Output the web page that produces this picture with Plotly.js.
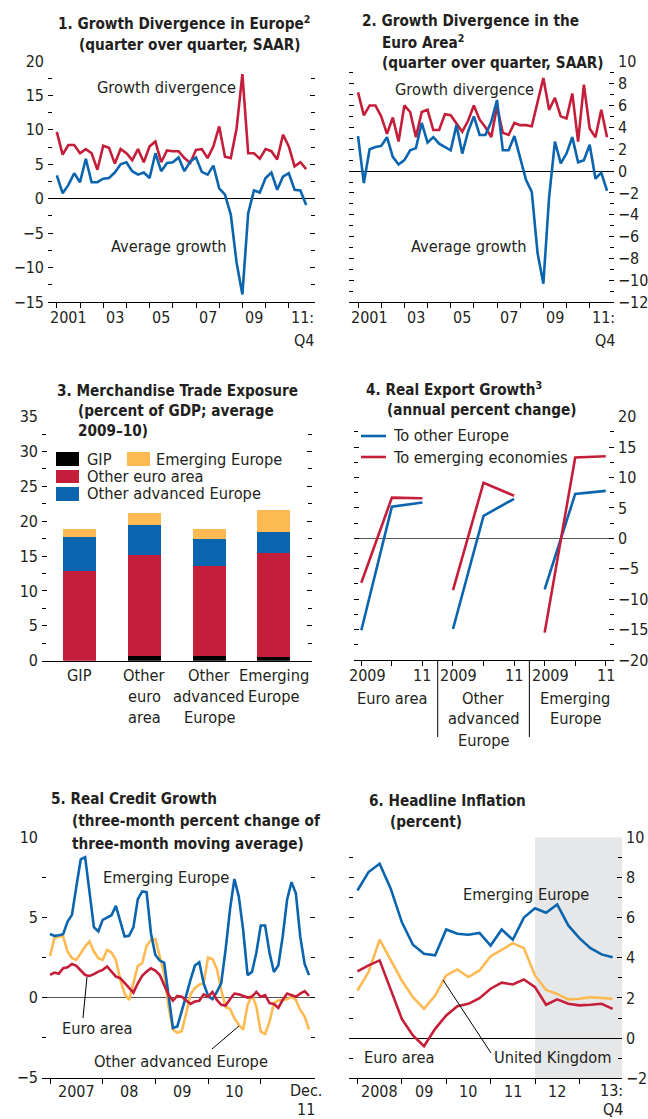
<!DOCTYPE html>
<html>
<head>
<meta charset="utf-8">
<script src="https://cdn.plot.ly/plotly-3.0.1.min.js"></script>
<style>
html,body{margin:0;padding:0;background:#fff;}
#chart{width:648px;height:1119px;}
</style>
</head>
<body>
<div id="chart"></div>
<script>
// ---------- DATA ----------
// Panel 1: Growth divergence in Europe, quarterly 2001Q1–2011Q4
const p1Start = 2001;
const p1Divergence = [9.7,6.4,7.8,7.8, 6.6,7.2,6.6,4.2, 7.7,7.4,5.1,7.2, 6.6,5.6,7.2,5.3, 7.6,8.3,5.3,7.0, 6.9,6.9,5.9,5.2, 7.1,7.2,5.9,7.6, 10.5,6.1,5.9,10.2, 18.1,6.6,6.6,5.8, 7.2,6.9,5.7,9.3, 7.6,4.7,5.3,4.3];
const p1Average = [3.4,0.8,2.0,3.7, 2.4,5.8,2.4,2.4, 2.9,3.0,3.8,5.0, 5.3,4.0,3.5,3.8, 3.0,6.6,4.0,5.2, 5.3,6.0,4.0,5.4, 6.0,3.9,3.5,4.8, 1.5,0.6,-2.3,-9.3, -13.9,-2.1,1.2,0.9, 3.0,3.8,1.3,3.2, 3.7,1.3,1.2,-0.9];

// Panel 2: Growth divergence in the euro area, quarterly 2001Q1–2011Q4
const p2Divergence = [7.2,5.1,6.0,6.0, 5.0,3.4,4.9,2.7, 6.0,5.4,3.1,5.4, 5.6,3.75,3.75,5.2, 5.1,4.4,3.6,4.6, 6.0,4.7,4.0,3.1, 5.9,3.5,3.3,4.4, 4.2,4.2,4.1,6.3, 8.5,5.6,6.7,5.0, 4.8,7.1,2.7,7.9, 3.9,3.1,5.6,3.1];
const p2Average = [3.2,-1.1,2.0,2.2, 2.3,3.1,1.3,0.6, 1.0,1.9,2.1,4.4, 2.6,3.1,2.5,2.2, 1.9,4.2,1.6,3.6, 5.0,3.3,3.3,4.5, 6.5,1.9,1.9,3.2, 1.3,-0.8,-1.9,-7.5, -10.3,-2.35,2.7,0.7, 1.6,3.1,0.8,1.0, 2.4,-0.7,-0.15,-1.8];
const yearTickLabels = ["2001","03","05","07","09"];

// Panel 3: Merchandise trade exposure (percent of GDP)
const p3Categories = ["GIP","Other<br>euro<br>area","Other<br>advanced<br>Europe","Emerging<br>Europe"];
const p3GIP = [0, 0.7, 0.7, 0.55];
const p3OtherEuro = [12.8, 14.5, 12.9, 14.95];
const p3OtherAdv = [5.0, 4.2, 3.9, 3.0];
const p3Emerging = [1.1, 1.8, 1.4, 3.1];

// Panel 4: Real export growth (annual percent change), 2009–11 for each group
const p4Groups = ["Euro area","Other<br>advanced<br>Europe","Emerging<br>Europe"];
const p4Years = ["2009","10","11"];
const p4ToOtherEurope = [[-15.1, 5.2, 5.9], [-14.9, 3.7, 6.5], [-8.4, 7.3, 7.8]];
const p4ToEmerging = [[-7.3, 6.7, 6.6], [-8.5, 9.15, 7.0], [-15.5, 13.3, 13.5]];

// Panel 5: Real credit growth, monthly Jan 2007 – Dec 2011
const p5Start = 2007;
const p5Emerging = [3.97,3.85,3.89,3.95,4.74,5.16,6.93,8.63,8.76,6.41, 4.39,4.12,4.85,4.99,5.14,5.72,4.74,3.81,3.85,4.39, 6.14,6.62,6.58,4.0,2.66,2.31,2.18,0.1,-1.9,-1.8, -0.9,0.1,1.1,2.0,2.2,0.9,0.1,-0.1,0.35,0.9, 3.0,5.5,7.4,6.3,4.2,1.4,1.6,2.8,4.5,4.5, 2.8,1.6,2.0,3.8,6.1,7.2,6.5,3.8,2.1,1.4];
const p5OtherAdv = [2.6,3.7,3.81,3.81,2.87,2.46,2.35,2.77,3.18,3.5, 2.87,2.46,2.35,2.98,2.81,2.35,1.14,0.23,-0.15,0.9, 1.98,2.14,3.23,3.6,3.64,2.56,1.52,-0.56,-2.0,-2.2, -2.1,-1.0,0.2,0.6,0.8,0.9,2.5,2.4,1.8,0.5, -0.6,-0.7,-1.3,-1.7,-2.0,-0.46,0.17,-0.56,-2.12,-2.27, -1.5,-0.35,-0.19,-0.15,-0.1,0.06,-0.15,-0.77,-1.19,-2.0];
const p5EuroArea = [1.41,1.56,1.48,1.83,1.89,2.1,1.98,1.69,1.41,1.35, 1.46,1.62,1.73,1.94,1.62,1.31,1.21,0.89,0.58,0.31, 0.89,1.35,1.62,1.83,1.69,1.41,0.79,0.17,-0.2,0.1, 0.05,-0.15,-0.4,-0.25,-0.2,0.2,0.05,0.35,-0.15,-0.45, -0.5,-0.1,0.25,0.2,0.1,0.0,0.05,0.35,0.05,0.15, -0.35,-0.4,-0.65,-0.15,0.25,0.15,0.05,0.25,0.4,0.1];
const p5TickLabels = ["2007","08","09","10"];

// Panel 6: Headline inflation, quarterly 2008Q1–2013Q4 (2012 onward projected)
const p6Start = 2008;
const p6ProjectionStart = 2012;
const p6Emerging = [7.35,8.27,8.68,7.44,5.78,4.65,4.2,4.12,5.41,5.2,5.15,5.24,4.61,5.41,4.9,6.0,6.47,6.24,6.66,5.61,4.98,4.48,4.17,4.03];
const p6UK = [2.37,3.29,4.9,3.87,2.87,2.04,1.46,2.12,3.12,3.42,3.04,3.37,4.08,4.4,4.73,4.48,3.12,2.4,2.2,1.93,1.96,2.04,1.99,1.96];
const p6EuroArea = [3.32,3.62,3.87,2.37,0.96,0.13,-0.4,0.46,1.13,1.59,1.71,1.99,2.46,2.76,2.67,2.92,2.54,1.66,1.93,1.71,1.63,1.66,1.71,1.46];
const p6TickLabels = ["2008","09","10","11","12"];

// ---------- STYLE ----------
const W = 648, H = 1119;
const RED = '#C41E3A', BLUE = '#0A64AE', YELLOW = '#FDBA52', BLACK = '#000000', TXT = '#231F20';
const FONT = "'DejaVu Sans Condensed', 'Liberation Sans', sans-serif";
const FS = 16.3, TKS = 16, TFS = 15.2, LW = 2.6, LINE_GAP = 21;
const px = v => v / W;
const py = v => 1 - v / H;

const quarterly = (start, arr) => arr.map((_, i) => start + i / 4);
const monthly = (start, arr) => arr.map((_, i) => start + i / 12);

const traces = [];
function line(xs, ys, color, xa, ya) {
  traces.push({x: xs, y: ys, type: 'scatter', mode: 'lines', xaxis: xa, yaxis: ya,
    line: {color: color, width: LW}, hoverinfo: 'skip', showlegend: false, connectgaps: false});
}
// Panel 1
line(quarterly(p1Start, p1Divergence), p1Divergence, RED, 'x', 'y');
line(quarterly(p1Start, p1Average), p1Average, BLUE, 'x', 'y');
// Panel 2
line(quarterly(p1Start, p2Divergence), p2Divergence, RED, 'x2', 'y2');
line(quarterly(p1Start, p2Average), p2Average, BLUE, 'x2', 'y2');
// Panel 3
const bar = (vals, color) => traces.push({x: [0,1,2,3], y: vals, type: 'bar', xaxis: 'x3', yaxis: 'y3',
  marker: {color: color, line: {width: 0}}, width: 0.51, hoverinfo: 'skip', showlegend: false});
bar(p3GIP, BLACK);
bar(p3OtherEuro, RED);
bar(p3OtherAdv, BLUE);
bar(p3Emerging, YELLOW);
// Panel 4 (groups separated by gaps)
function groupSeries(groups) {
  const xs = [], ys = [];
  groups.forEach((g, gi) => {
    g.forEach((v, i) => { xs.push(gi * g.length + i); ys.push(v); });
    xs.push(gi * g.length + g.length - 0.5); ys.push(null);
  });
  return {xs, ys};
}
const g4b = groupSeries(p4ToOtherEurope), g4r = groupSeries(p4ToEmerging);
line(g4b.xs, g4b.ys, BLUE, 'x4', 'y4');
line(g4r.xs, g4r.ys, RED, 'x4', 'y4');
// Panel 5
line(monthly(p5Start, p5OtherAdv), p5OtherAdv, YELLOW, 'x5', 'y5');
line(monthly(p5Start, p5Emerging), p5Emerging, BLUE, 'x5', 'y5');
line(monthly(p5Start, p5EuroArea), p5EuroArea, RED, 'x5', 'y5');
// Panel 6
line(quarterly(p6Start, p6Emerging), p6Emerging, BLUE, 'x6', 'y6');
line(quarterly(p6Start, p6UK), p6UK, YELLOW, 'x6', 'y6');
line(quarterly(p6Start, p6EuroArea), p6EuroArea, RED, 'x6', 'y6');

// ---------- AXES ----------
function xAx(d0, d1, range, ya, tickvals, extra) {
  return Object.assign({domain: [px(d0), px(d1)], range: range, anchor: ya, showgrid: false, zeroline: false,
    showline: true, linecolor: '#000', linewidth: 1, ticks: 'outside', ticklen: 5, tickcolor: '#000', tickwidth: 1,
    tickvals: tickvals, showticklabels: false, fixedrange: true}, extra || {});
}
function yAx(top, bottom, range, xa, dtick, minor, side, extra) {
  return Object.assign({domain: [py(bottom), py(top)], range: range, anchor: xa, side: side, showgrid: false,
    showline: false, zeroline: true, zerolinecolor: '#000', zerolinewidth: 1,
    ticks: 'inside', ticklen: 5, tickcolor: '#000', tickwidth: 1, mirror: 'ticks', dtick: dtick, tick0: 0,
    minor: {dtick: minor, ticks: 'inside', ticklen: 4, tickcolor: '#000', tickwidth: 1, showgrid: false},
    tickfont: {size: TKS, color: TXT, family: FONT}, ticklabelstandoff: 3, fixedrange: true}, extra || {});
}
const years = (a, b) => { const r = []; for (let y = a; y <= b; y++) r.push(y); return r; };

const R1 = [2000.62, 2012.13], R2 = [2000.61, 2012.05], R3 = [-0.58, 3.59], R4 = [-0.24, 8.27],
      R5 = [2006.848, 2012.03], R6 = [2007.81, 2013.96];
const D1 = [48, 315], D2 = [349, 614], D3 = [42, 312], D4 = [354, 614], D5 = [42, 315], D6 = [349, 622];

const layout = {
  width: W, height: H, margin: {l: 0, r: 0, t: 0, b: 0}, paper_bgcolor: '#fff', plot_bgcolor: 'rgba(0,0,0,0)',
  font: {family: FONT, size: FS, color: TXT}, showlegend: false, barmode: 'stack', bargap: 0,
  xaxis:  xAx(D1[0], D1[1], R1, 'y', years(2001, 2011)),
  yaxis:  yAx(61, 302, [-15, 20], 'x', 5, 2.5, 'left'),
  xaxis2: xAx(D2[0], D2[1], R2, 'y2', years(2001, 2011)),
  yaxis2: yAx(61.7, 302.3, [-12, 10], 'x2', 2, 1, 'right'),
  xaxis3: xAx(D3[0], D3[1], R3, 'y3', [0,1,2,3], {ticks: ''}),
  yaxis3: yAx(416.7, 660.7, [0, 35], 'x3', 5, 2.5, 'left', {zeroline: false}),
  xaxis4: xAx(D4[0], D4[1], R4, 'y4', [0,1,2,3,4,5,6,7,8]),
  yaxis4: yAx(416.7, 660, [-20, 20], 'x4', 5, 2.5, 'right', {zerolinecolor: '#555'}),
  xaxis5: xAx(D5[0], D5[1], R5, 'y5', years(2007, 2011)),
  yaxis5: yAx(837.3, 1077.7, [-5, 10], 'x5', 5, 2.5, 'left', {zerolinecolor: '#555'}),
  xaxis6: xAx(D6[0], D6[1], R6, 'y6', years(2008, 2013)),
  yaxis6: yAx(837.3, 1078.3, [-2, 10], 'x6', 2, 1, 'right'),
  shapes: [], annotations: []
};

// ---------- TEXT ----------
function ann(text, x, y, o) {
  o = o || {};
  layout.annotations.push({text: text, x: px(x), y: py(y), xref: 'paper', yref: 'paper', showarrow: false,
    xanchor: o.xa || 'center', yanchor: o.ya || 'middle', align: o.align || 'center',
    borderpad: o.pad === undefined ? 1 : o.pad,
    font: {family: FONT, size: o.size || FS, color: TXT, weight: o.bold ? 'bold' : 'normal'}});
}
function multi(text, x, y0, o) {
  text.split('<br>').forEach((t, i) => ann(t, x, y0 + i * LINE_GAP, o));
}
function title(lines, x0, x1, ys) {
  lines.forEach((t, i) => ann(t, i === 0 ? x0 : x1, ys[i], {xa: 'left', bold: true, size: TFS}));
}
const toPx = (v, R, D) => D[0] + (v - R[0]) / (R[1] - R[0]) * (D[1] - D[0]);

title(["1. Growth Divergence in Europe<sup>2</sup>", "(quarter over quarter, SAAR)"], 56, 77, [23, 45]);
title(["2. Growth Divergence in the", "Euro Area<sup>2</sup>", "(quarter over quarter, SAAR)"], 360, 380, [21, 42, 63]);
title(["3. Merchandise Trade Exposure", "(percent of GDP; average", "2009–10)"], 55, 76, [391, 411, 431]);
title(["4. Real Export Growth<sup>3</sup>", "(annual percent change)"], 364, 385, [389, 410]);
title(["5. Real Credit Growth", "(three-month percent change of", "three-month moving average)"], 49, 70, [799, 821, 844]);
title(["6. Headline Inflation", "(percent)"], 367, 388, [801, 822]);

// Year labels (centered between year ticks)
function yearLabels(labels, firstYear, step, R, D, y) {
  labels.forEach((t, i) => ann(t, toPx(firstYear + i * step + 0.5, R, D), y, {size: TKS}));
}
yearLabels(yearTickLabels, 2001, 2, R1, D1, 318);
ann("11:", 316, 318, {xa: 'right', size: TKS}); ann("Q4", 316, 340, {xa: 'right', size: TKS});
yearLabels(yearTickLabels, 2001, 2, R2, D2, 318);
ann("11:", 617, 318, {xa: 'right', size: TKS}); ann("Q4", 617, 340, {xa: 'right', size: TKS});
yearLabels(p5TickLabels, 2007, 1, R5, D5, 1091);
ann("Dec.", 323, 1090.5, {xa: 'right', size: TKS, pad: 0}); ann("11", 316, 1109.5, {xa: 'right', size: TKS, pad: 0});
yearLabels(p6TickLabels, 2008, 1, R6, D6, 1091);
ann("13:", 624, 1090.5, {xa: 'right', size: TKS, pad: 0}); ann("Q4", 624, 1109.5, {xa: 'right', size: TKS, pad: 0});

// Panel 3 category labels
p3Categories.forEach((c, i) => multi(c, toPx(i, R3, D3), 675));

// Panel 4 x labels
[0,1,2].forEach(g => {
  ann(p4Years[0], toPx(g * 3, R4, D4) + 6, 675, {size: TKS});
  ann(p4Years[2], toPx(g * 3 + 2, R4, D4), 675, {size: TKS});
  multi(p4Groups[g], toPx(g * 3 + 1, R4, D4), 698);
});
// separators
[2.5, 5.5].forEach(v => layout.shapes.push({type: 'line', xref: 'x4', yref: 'paper', x0: v, x1: v,
  y0: py(660), y1: py(737), line: {color: '#000', width: 1}}));

// Inline series labels
ann("Growth divergence", 166, 87); ann("Average growth", 169, 247);
ann("Growth divergence", 464, 89); ann("Average growth", 469, 246);
ann("Emerging Europe", 166, 877); ann("Euro area", 97, 1028); ann("Other advanced Europe", 181, 1061);
ann("Emerging Europe", 526, 894); ann("Euro area", 399, 1057); ann("United Kingdom", 553, 1057);
// leader lines
[[87, 977, 83, 1018], [212, 1049, 239, 1026], [443, 980, 491, 1053]].forEach(l => layout.shapes.push({
  type: 'line', xref: 'paper', yref: 'paper', x0: px(l[0]), y0: py(l[1]), x1: px(l[2]), y1: py(l[3]),
  line: {color: '#000', width: 1}}));

// Panel 3 legend
function swatch(x0, y0, x1, y1, color) {
  layout.shapes.push({type: 'rect', xref: 'paper', yref: 'paper', x0: px(x0), x1: px(x1), y0: py(y1), y1: py(y0),
    fillcolor: color, line: {width: 0}});
}
swatch(56, 452, 79, 466, BLACK); ann("GIP", 85, 459, {xa: 'left'});
swatch(127, 452, 150, 466, YELLOW); ann("Emerging Europe", 154, 459, {xa: 'left'});
swatch(56, 470, 79, 483, RED); ann("Other euro area", 85, 476, {xa: 'left'});
swatch(56, 487, 79, 501, BLUE); ann("Other advanced Europe", 85, 494, {xa: 'left'});
// Panel 4 legend
[[BLUE, "To other Europe", 436], [RED, "To emerging economies", 457]].forEach(r => {
  layout.shapes.push({type: 'line', xref: 'paper', yref: 'paper', x0: px(361), x1: px(386), y0: py(r[2]), y1: py(r[2]),
    line: {color: r[0], width: LW}});
  ann(r[1], 391, r[2], {xa: 'left'});
});

// Panel 6 projection shading
layout.shapes.push({type: 'rect', xref: 'x6', yref: 'y6', x0: p6ProjectionStart, x1: R6[1], y0: -2, y1: 10,
  fillcolor: '#E6E7E8', line: {width: 0}, layer: 'below'});

Plotly.newPlot('chart', traces, layout, {staticPlot: true, displayModeBar: false});
</script>
</body>
</html>
